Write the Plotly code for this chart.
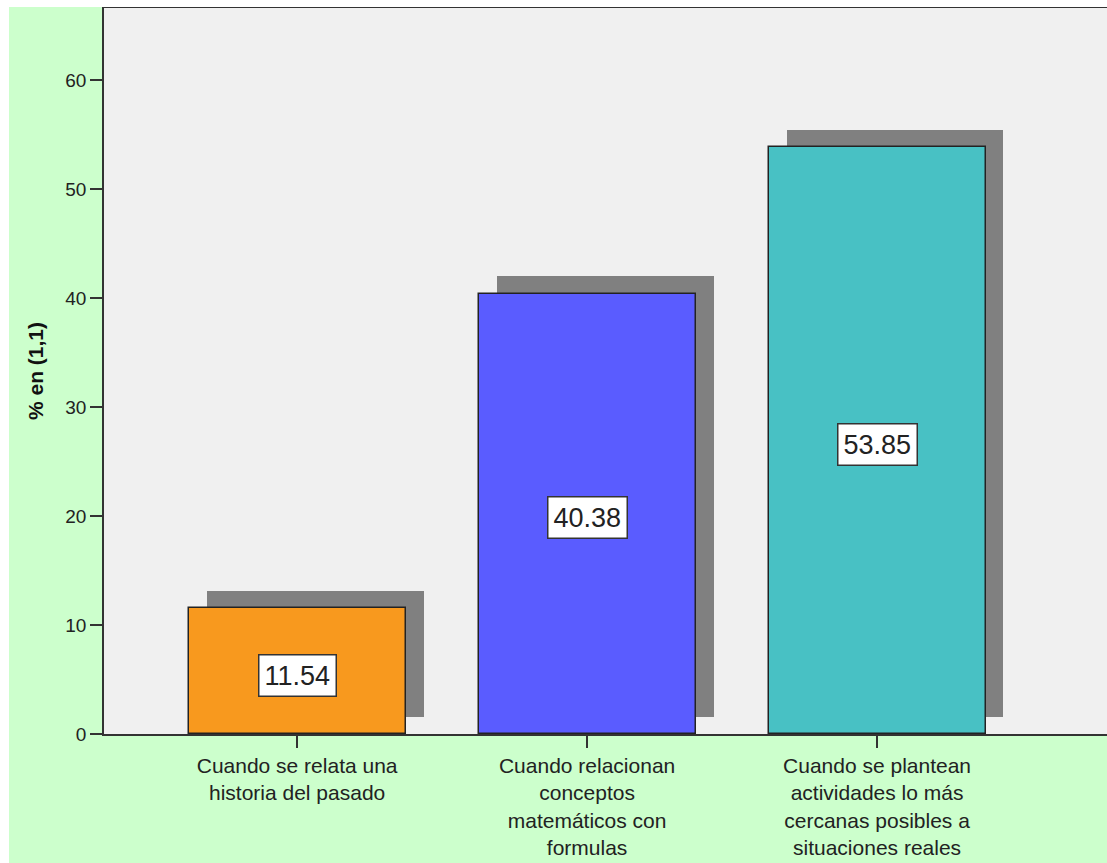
import plotly.graph_objects as go

categories = [
    "Cuando se relata una<br>historia del pasado",
    "Cuando relacionan<br>conceptos<br>matemáticos con<br>formulas",
    "Cuando se plantean<br>actividades lo más<br>cercanas posibles a<br>situaciones reales",
]
values = [11.54, 40.38, 53.85]
bar_colors = ["#F8991E", "#5A5CFF", "#48C1C4"]
y_ticks = [0, 10, 20, 30, 40, 50, 60]
y_title = "% en (1,1)"

positions = list(range(len(categories)))
bar_width = 0.748
shadow_dx = 0.062
shadow_dy = 1.6

fig = go.Figure()

# drop shadows
fig.add_trace(go.Bar(
    x=[p + shadow_dx for p in positions],
    y=values,
    base=[shadow_dy] * len(values),
    width=bar_width,
    marker=dict(color="#808080", line=dict(width=0)),
    hoverinfo="skip",
    showlegend=False,
))

# main bars
fig.add_trace(go.Bar(
    x=positions,
    y=values,
    width=bar_width,
    marker=dict(color=bar_colors, line=dict(color="#222222", width=1.5)),
    showlegend=False,
))

for p, v in zip(positions, values):
    fig.add_annotation(
        x=p, y=v / 2, xref="x", yref="y", yshift=-4,
        text=f"{v:.2f}", showarrow=False,
        font=dict(family="Liberation Sans, Arial", size=27, color="#222222"),
        bgcolor="white", bordercolor="#333333", borderwidth=1.5, borderpad=5,
    )

W, H = 1107, 863
ml, mr, mt, mb = 104, 0, 8, 129
pw, ph = W - ml - mr, H - mt - mb

# thin white edges at left and top of the green chart background
fig.add_shape(
    type="rect", xref="paper", yref="paper",
    x0=-ml / pw - 0.01, x1=(9 - ml) / pw, y0=-(mb + 5) / ph, y1=(ph + mt + 5) / ph,
    fillcolor="white", line=dict(width=0), layer="above",
)
fig.add_shape(
    type="rect", xref="paper", yref="paper",
    x0=-ml / pw - 0.01, x1=1.05, y0=1.0 + 1 / ph, y1=(ph + mt + 5) / ph,
    fillcolor="white", line=dict(width=0), layer="above",
)

fig.update_layout(
    width=W, height=H,
    margin=dict(l=ml, r=mr, t=mt, b=mb),
    paper_bgcolor="#CCFFCC",
    plot_bgcolor="#F0F0F0",
    barmode="overlay",
    bargap=0,
    font=dict(family="Liberation Sans, Arial", color="#222222"),
    showlegend=False,
)

fig.update_xaxes(
    range=[-0.666, 2.793],
    automargin=False,
    tickmode="array", tickvals=positions, ticktext=categories,
    tickfont=dict(size=21, color="#222222"),
    ticks="outside", ticklen=12, tickwidth=1.5, tickcolor="#333333",
    showline=True, linecolor="#333333", linewidth=1.5,
    mirror=True,
    showgrid=False, zeroline=False,
)

fig.update_yaxes(
    range=[0, 66.6],
    automargin=False,
    tickmode="array", tickvals=y_ticks,
    tickfont=dict(size=19, color="#222222"),
    ticks="outside", ticklen=12, tickwidth=1.5, tickcolor="#333333",
    showline=True, linecolor="#333333", linewidth=1.5,
    showgrid=False, zeroline=False,
    title=dict(text=f"<b>{y_title}</b>", font=dict(size=21, color="#111111"), standoff=16),
)

fig.write_html("out.html")
